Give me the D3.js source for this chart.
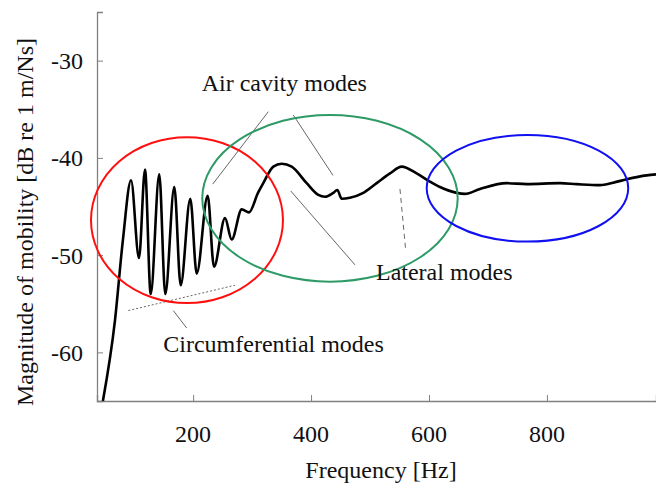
<!DOCTYPE html>
<html>
<head>
<meta charset="utf-8">
<script src="https://cdn.jsdelivr.net/npm/d3@7"></script>
<style>
  body { margin: 0; background: #fff; }
</style>
</head>
<body>
<svg id="chart" width="656" height="486" font-family="'Liberation Serif', 'DejaVu Serif', serif"></svg>
<script>
var freq = [47, 67.5, 81, 94.7, 108.2, 118.4, 128.1, 142.6, 152.8, 168.1, 178.9, 195.2, 206.1,
    224.7, 235.4, 254.1, 265.4, 282.4, 294.8, 310, 319, 336, 350.2, 367.2, 392.6, 412.3,
    423.6, 437.7, 444.5, 452, 466, 488.6, 511.3, 533.9, 553.7, 579.1, 601.7, 618.6, 647,
    661, 686.5, 731.8, 765.7, 822.1, 850.5, 890, 912.5, 935.2, 969.2, 985];
var mobility = [-65, -56.7, -48.4, -42.3, -50.3, -41.2, -54.0, -41.7, -54.0, -43.0, -53.1, -44.2, -51.9,
    -43.9, -51.2, -46.2, -48.4, -45.3, -45.6, -43.6, -42.6, -40.9, -40.6, -40.9, -42.6, -43.8,
    -44.0, -43.6, -43.3, -44.2, -44.1, -43.6, -42.6, -41.6, -40.9, -41.6, -42.45, -43.0, -43.6,
    -43.7, -43.2, -42.6, -42.7, -42.6, -42.7, -42.8, -42.55, -42.2, -41.8, -41.7];

var xTicks = [200, 400, 600, 800];
var yTicks = [-60, -50, -40, -30];

// highlighted regions: centre freq, centre dB, half-width Hz, half-height dB
var regions = [
    {cx: 189.6, cy: -46.4, rx: 162.8, ry: 8.53, color: '#ff1010'},
    {cx: 432.1, cy: -44.16, rx: 216.6, ry: 8.57, color: '#2e9a66'},
    {cx: 767, cy: -43.13, rx: 170.9, ry: 5.48, color: '#1010f0'}
];

var labels = [
    {text: 'Air cavity modes', f: 214.5, v: -33.1},
    {text: 'Lateral modes', f: 510.1, v: -52.6},
    {text: 'Circumferential modes', f: 149.4, v: -60.0}
];

var leaders = [
    {f1: 327.5, v1: -35.25, f2: 233.2, v2: -42.7, dash: null},
    {f1: 369.9, v1: -35.6, f2: 437.2, v2: -41.8, dash: null},
    {f1: 365.5, v1: -43.4, f2: 474.5, v2: -51.0, dash: null},
    {f1: 550.8, v1: -43.2, f2: 560.5, v2: -49.5, dash: '5,4'},
    {f1: 90.1, v1: -55.7, f2: 271, v2: -53.1, dash: '2,2'},
    {f1: 166.4, v1: -55.7, f2: 189.1, v2: -57.5, dash: null}
];

var svg = d3.select('#chart');
var textCol = '#111';

var x = d3.scaleLinear().domain([37, 985]).range([97, 656]);
var y = d3.scaleLinear().domain([-65, -25]).range([401, 12]);

// axes, ticks pointing inward
var axisCol = '#808080';
var xAxis = svg.append('g').attr('transform', 'translate(0,401)')
    .call(d3.axisTop(x).tickValues(xTicks).tickSize(6).tickFormat(''));
var yAxis = svg.append('g').attr('transform', 'translate(97,0)')
    .call(d3.axisRight(y).tickValues(yTicks).tickSize(6).tickFormat(''));
[xAxis, yAxis].forEach(function(a) {
    a.select('.domain').attr('stroke', axisCol).attr('stroke-width', 1.3);
    a.selectAll('.tick line').attr('stroke', axisCol).attr('stroke-width', 1);
});

svg.selectAll('.xlab').data(xTicks).enter().append('text')
    .attr('x', function(d) { return x(d); })
    .attr('y', 442)
    .attr('text-anchor', 'middle')
    .attr('font-size', 24)
    .attr('fill', textCol)
    .text(function(d) { return d; });

svg.selectAll('.ylab').data(yTicks).enter().append('text')
    .attr('x', 83)
    .attr('y', function(d) { return y(d); })
    .attr('dy', '0.35em')
    .attr('text-anchor', 'end')
    .attr('font-size', 24)
    .attr('fill', textCol)
    .text(function(d) { return d; });

svg.append('text')
    .attr('x', 381).attr('y', 478)
    .attr('text-anchor', 'middle')
    .attr('font-size', 24)
    .attr('fill', textCol)
    .text('Frequency [Hz]');

svg.append('text')
    .attr('transform', 'translate(33,222) rotate(-90)')
    .attr('text-anchor', 'middle')
    .attr('font-size', 24)
    .attr('fill', textCol)
    .text('Magnitude of mobility [dB re 1 m/Ns]');

// leader lines
svg.selectAll('.leader').data(leaders).enter().append('line')
    .attr('x1', function(d) { return x(d.f1); })
    .attr('y1', function(d) { return y(d.v1); })
    .attr('x2', function(d) { return x(d.f2); })
    .attr('y2', function(d) { return y(d.v2); })
    .attr('stroke', '#555')
    .attr('stroke-width', 0.9)
    .attr('stroke-dasharray', function(d) { return d.dash; });

var pts = freq.map(function(f, i) { return [f, mobility[i]]; });
var line = d3.line()
    .x(function(d) { return x(d[0]); })
    .y(function(d) { return y(d[1]); })
    .curve(d3.curveMonotoneX);

svg.append('path')
    .datum(pts)
    .attr('d', line)
    .attr('fill', 'none')
    .attr('stroke', '#000')
    .attr('stroke-width', 2.6)
    .attr('stroke-linejoin', 'round');

svg.selectAll('.region').data(regions).enter().append('ellipse')
    .attr('cx', function(d) { return x(d.cx); })
    .attr('cy', function(d) { return y(d.cy); })
    .attr('rx', function(d) { return x(d.cx + d.rx) - x(d.cx); })
    .attr('ry', function(d) { return y(d.cy - d.ry) - y(d.cy); })
    .attr('fill', 'none')
    .attr('stroke', function(d) { return d.color; })
    .attr('stroke-width', 2);

svg.selectAll('.note').data(labels).enter().append('text')
    .attr('x', function(d) { return x(d.f); })
    .attr('y', function(d) { return y(d.v); })
    .attr('font-size', 24)
    .attr('fill', textCol)
    .text(function(d) { return d.text; });
</script>
</body>
</html>
